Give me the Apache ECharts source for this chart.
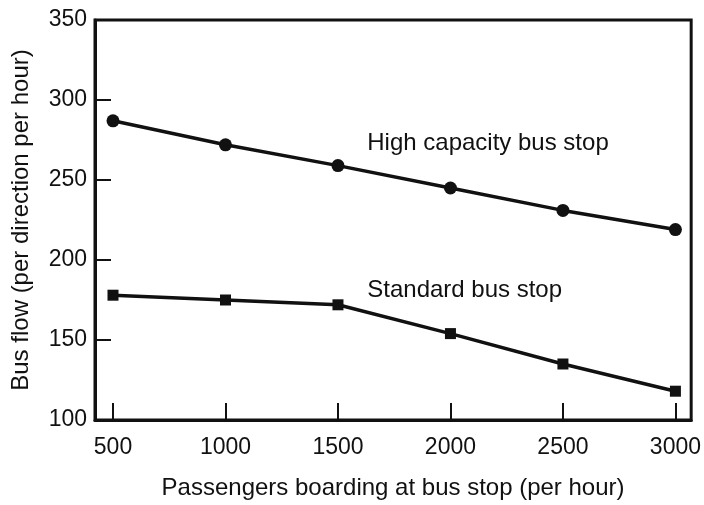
<!DOCTYPE html>
<html>
<head>
<meta charset="utf-8">
<script src="https://cdn.jsdelivr.net/npm/echarts@6/dist/echarts.min.js"></script>
<style>
html,body{margin:0;padding:0;background:#fff;}
#chart{width:704px;height:505px;}
</style>
</head>
<body>
<div id="chart"></div>
<script>
var passengers = [500, 1000, 1500, 2000, 2500, 3000];
var highCapacity = [287, 272, 259, 245, 231, 219];
var standardStop = [178, 175, 172, 154, 135, 118];
var xTicks = [500, 1000, 1500, 2000, 2500, 3000];
var yTicks = [100, 150, 200, 250, 300, 350];
var seriesNames = ['High capacity bus stop', 'Standard bus stop'];
var labelAnchors = [[1628, 273], [1628, 181]];

function pairs(xs, ys) { return xs.map(function (x, i) { return [x, ys[i]]; }); }

var font = 'Liberation Sans, Arial, Helvetica, sans-serif';
var ink = '#111';

function annot(i) {
  return {
    symbol: 'circle', symbolSize: 1, itemStyle: { color: 'rgba(0,0,0,0)' },
    data: [{ coord: labelAnchors[i], value: 0 }],
    label: { show: true, formatter: seriesNames[i], position: 'right', distance: 0,
      fontFamily: font, fontSize: 24, color: ink }
  };
}

var chart = echarts.init(document.getElementById('chart'));
chart.setOption({
  backgroundColor: '#fff',
  animation: false,
  grid: {
    left: 95, right: 10, top: 20, bottom: 79,
    show: true, borderColor: ink, borderWidth: 3, backgroundColor: 'transparent'
  },
  xAxis: {
    type: 'value', min: 420, max: 3070,
    name: 'Passengers boarding at bus stop (per hour)',
    nameLocation: 'middle', nameGap: 56,
    nameTextStyle: { fontFamily: font, fontSize: 24, color: ink },
    axisLine: { show: true, lineStyle: { color: ink, width: 3 } },
    axisTick: { show: true, inside: true, length: 17, customValues: xTicks, lineStyle: { color: ink, width: 2 } },
    axisLabel: { customValues: xTicks, margin: 16, fontFamily: font, fontSize: 23, color: ink,
      formatter: function (v) { return String(v); } },
    splitLine: { show: false }
  },
  yAxis: {
    type: 'value', min: 100, max: 350, interval: 50,
    name: 'Bus flow (per direction per hour)',
    nameLocation: 'middle', nameGap: 62,
    nameTextStyle: { fontFamily: font, fontSize: 24, color: ink },
    axisLine: { show: true, lineStyle: { color: ink, width: 3 } },
    axisTick: { show: true, inside: true, length: 16, customValues: yTicks, lineStyle: { color: ink, width: 2 } },
    axisLabel: { customValues: yTicks, margin: 8, fontFamily: font, fontSize: 23, color: ink,
      formatter: function (v) { return String(v); } },
    splitLine: { show: false }
  },
  series: [
    {
      name: seriesNames[0], type: 'line', data: pairs(passengers, highCapacity),
      symbol: 'circle', symbolSize: 13,
      lineStyle: { color: ink, width: 3.5 }, itemStyle: { color: ink },
      markPoint: annot(0)
    },
    {
      name: seriesNames[1], type: 'line', data: pairs(passengers, standardStop),
      symbol: 'rect', symbolSize: 11,
      lineStyle: { color: ink, width: 3.5 }, itemStyle: { color: ink },
      markPoint: annot(1)
    }
  ]
});
</script>
</body>
</html>
